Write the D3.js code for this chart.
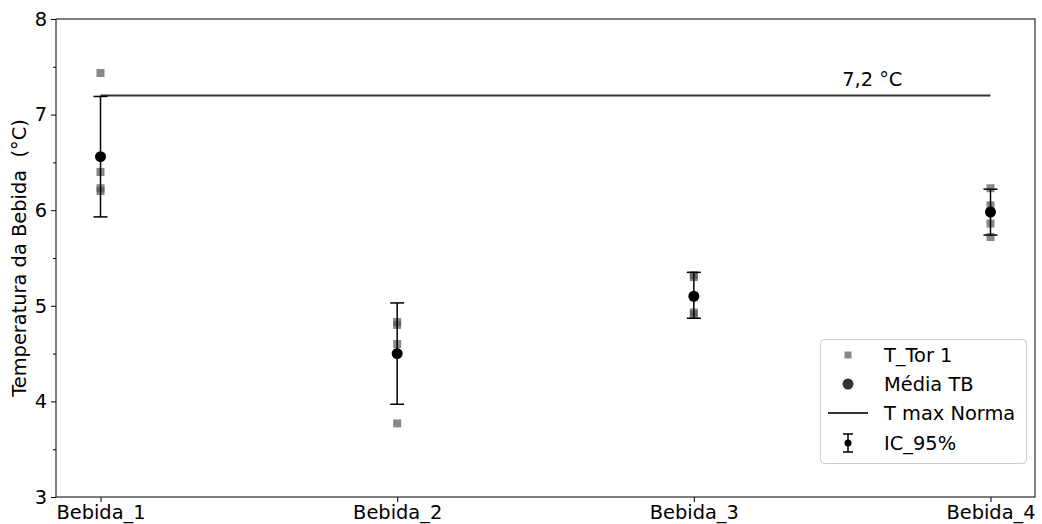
<!DOCTYPE html>
<html><head><meta charset="utf-8">
<script src="https://cdn.jsdelivr.net/npm/d3@7"></script>
<style>body{margin:0;background:#fff}svg{display:block}text{font-family:"DejaVu Sans",sans-serif}</style>
</head><body><svg id="c" width="1042" height="524"></svg>
<script>
const categories = ["Bebida_1","Bebida_2","Bebida_3","Bebida_4"];
const tor1 = [
  [7.435, 6.40, 6.23, 6.20],
  [4.83, 4.80, 4.60, 3.77],
  [5.32, 5.30, 4.93, 4.91],
  [6.23, 6.05, 5.86, 5.72]
];
const means = [6.56, 4.50, 5.10, 5.98];
const ciLow = [5.93, 3.97, 4.87, 5.74];
const ciHigh = [7.19, 5.03, 5.35, 6.22];
const tMax = 7.2;
const tMaxLabel = "7,2 °C";
const yTicks = [3,4,5,6,7,8];
const yMinor = [3.5,4.5,5.5,6.5,7.5];
const legendLabels = ["T_Tor 1","Média TB","T max Norma","IC_95%"];

const FS = 19.4;
const svg = d3.select("#c");
const L=56, R=1035, T=19, B=497;
const x = d3.scaleLinear().domain([-0.15, 3.15]).range([L, R]);
const y = d3.scaleLinear().domain([3, 8]).range([B, T]);

// axes
const yAxis = d3.axisLeft(y).tickValues(yTicks).tickFormat(d3.format("d")).tickSize(5).tickPadding(4);
const gy = svg.append("g").attr("transform",`translate(${L},0)`).call(yAxis);
gy.select(".domain").remove();
gy.selectAll("text").attr("font-size",FS).attr("fill","#000");
const gym = svg.append("g").attr("transform",`translate(${L},0)`).call(d3.axisLeft(y).tickValues(yMinor).tickFormat("").tickSize(3));
gym.select(".domain").remove();

const xAxis = d3.axisBottom(x).tickValues(d3.range(categories.length)).tickFormat(i=>categories[i]).tickSize(5).tickPadding(3);
const gx = svg.append("g").attr("transform",`translate(0,${B})`).call(xAxis);
gx.select(".domain").remove();
gx.selectAll("text").attr("font-size",FS).attr("fill","#000");

svg.append("rect").attr("x",L).attr("y",T).attr("width",R-L).attr("height",B-T)
  .attr("fill","none").attr("stroke","#000").attr("stroke-width",1);

svg.append("text").attr("transform",`translate(26,${(T+B)/2}) rotate(-90)`)
  .attr("text-anchor","middle").attr("font-size",FS).attr("fill","#000")
  .style("white-space","pre")
  .text("Temperatura da Bebida  (°C)");

// squares
const ms = 8;
tor1.forEach((arr,i)=>{
  svg.append("g").selectAll("rect").data(arr).join("rect")
    .attr("x",x(i)-ms/2).attr("y",d=>y(d)-ms/2).attr("width",ms).attr("height",ms)
    .attr("fill","#555").attr("fill-opacity",0.7);
});

// T max line
svg.append("line").attr("x1",x(0)).attr("x2",x(3)).attr("y1",y(tMax)).attr("y2",y(tMax))
  .attr("stroke","#333").attr("stroke-width",2);
svg.append("text").attr("x",x(2.5)).attr("y",y(tMax)-9).attr("text-anchor","start")
  .attr("font-size",FS).attr("fill","#000").text(tMaxLabel);

// error bars
const cap=7;
const eb = svg.append("g").attr("stroke","#000").attr("stroke-width",1.5);
means.forEach((m,i)=>{
  eb.append("line").attr("x1",x(i)).attr("x2",x(i)).attr("y1",y(ciLow[i])).attr("y2",y(ciHigh[i]));
  eb.append("line").attr("x1",x(i)-cap).attr("x2",x(i)+cap).attr("y1",y(ciLow[i])).attr("y2",y(ciLow[i]));
  eb.append("line").attr("x1",x(i)-cap).attr("x2",x(i)+cap).attr("y1",y(ciHigh[i])).attr("y2",y(ciHigh[i]));
});
// means
svg.append("g").selectAll("circle").data(means).join("circle")
  .attr("cx",(d,i)=>x(i)).attr("cy",d=>y(d)).attr("r",5.5).attr("fill","#000");

// legend
const lg = svg.append("g");
lg.append("rect").attr("x",820.5).attr("y",339.5).attr("width",206).attr("height",124).attr("rx",4)
  .attr("fill","#fff").attr("fill-opacity",0.8).attr("stroke","#ccc");
const ly = [355, 384, 413, 443], mx = 848, tx = 884;
lg.append("rect").attr("x",mx-3.5).attr("y",ly[0]-3.5).attr("width",7).attr("height",7).attr("fill","#555").attr("fill-opacity",0.7);
lg.append("circle").attr("cx",mx).attr("cy",ly[1]).attr("r",5.5).attr("fill","#333");
lg.append("line").attr("x1",828).attr("x2",868).attr("y1",ly[2]).attr("y2",ly[2]).attr("stroke","#333").attr("stroke-width",2);
const le = lg.append("g").attr("stroke","#000").attr("stroke-width",1.5);
le.append("line").attr("x1",mx).attr("x2",mx).attr("y1",ly[3]-9).attr("y2",ly[3]+9);
le.append("line").attr("x1",mx-5).attr("x2",mx+5).attr("y1",ly[3]-9).attr("y2",ly[3]-9);
le.append("line").attr("x1",mx-5).attr("x2",mx+5).attr("y1",ly[3]+9).attr("y2",ly[3]+9);
lg.append("circle").attr("cx",mx).attr("cy",ly[3]).attr("r",3.5).attr("fill","#000");
legendLabels.forEach((t,i)=>{
  lg.append("text").attr("x",tx).attr("y",ly[i]).attr("dy","0.35em").attr("font-size",FS).attr("fill","#000").text(t);
});
</script></body></html>
